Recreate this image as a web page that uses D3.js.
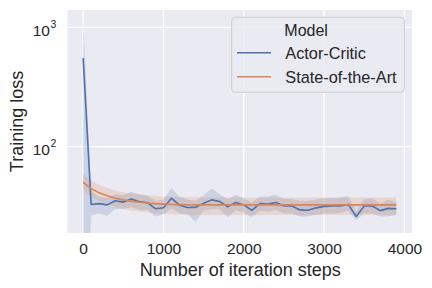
<!DOCTYPE html>
<html>
<head>
<meta charset="utf-8">
<script src="https://cdn.jsdelivr.net/npm/d3@7"></script>
<style>
  html, body { margin: 0; padding: 0; background: #ffffff; }
  svg { display: block; }
  text { font-family: "Liberation Sans", Arial, sans-serif; fill: #262626; }
</style>
</head>
<body>
<div id="chart"></div>
<script>
// ---------- data ----------
const steps = [0,100,200,300,400,500,600,700,800,900,1000,1100,1200,1300,1400,1500,1600,1700,1800,1900,
               2000,2100,2200,2300,2400,2500,2600,2700,2800,2900,3000,3100,3200,3300,3400,3500,3600,3700,3800,3900];

const acMean  = [553,32.8,33.3,32.5,35.2,34.3,36.4,34.5,34.0,30.2,30.8,36.9,32.3,30.9,31.0,33.5,35.8,34.7,31.3,34.1,
                 32.5,29.3,33.3,33.0,34.1,31.8,31.8,29.5,29.3,30.7,31.6,31.8,31.9,32.8,26.0,31.8,31.8,29.1,30.4,30.2];
const acUpper = [1160,42,38,37,40,39,42,40,39,35,36,45,38,36,35,39,44.9,40,36,39.5,
                 37,34,38,38,39.5,36.5,36.5,35,35,36,37,37,37.5,38.5,28.6,36.5,37,33,36,34];
const acLower = [1,26.5,27.5,26.3,30,30,31,29.5,29.5,26,27,30.5,27.5,27,23.5,29,30,30,25.5,29.5,
                 28,25.5,29,28.5,29.5,27.5,27.5,26,26,27,27.5,27.5,28,29,24.3,27.5,27.5,26,26,27];

const sotaMean  = [50.3,44.5,41.0,38.8,37.0,35.8,34.8,34.2,33.7,33.3,33.0,32.8,32.7,32.6,32.5,32.5,32.5,32.5,32.5,32.5,
                   32.5,32.5,32.5,32.5,32.5,32.5,32.5,32.5,32.5,32.5,32.5,32.5,32.5,32.5,32.5,32.5,32.5,32.5,32.5,32.5];
const sotaUpper = [58.5,52,48,45,43,41.5,40.3,39.5,38.9,38.5,38.2,37.9,37.8,37.7,37.6,37.5,37.5,37.5,37.5,37.5,
                   37.5,37.5,37.5,37.5,37.5,37.5,37.5,37.5,37.5,37.5,37.5,37.5,37.5,37.5,37.5,37.5,37.5,37.5,37.5,37.5];
const sotaLower = [43.5,38,35,33,31.2,30,29.2,28.6,28.1,27.7,27.4,27.2,27.0,26.9,26.8,26.7,26.7,26.7,26.7,26.7,
                   26.7,26.7,26.7,26.7,26.7,26.7,26.7,26.7,26.7,26.7,26.7,26.7,26.7,26.7,26.7,26.7,26.7,26.7,26.7,26.7];

const modelNames = ["Actor-Critic", "State-of-the-Art"];
const xTicks = [0, 1000, 2000, 3000, 4000];
const yTicks = [100, 1000];
const yTickExp = ["2", "3"];
const xLabel = "Number of iteration steps";
const yLabel = "Training loss";
const legendTitle = "Model";

// ---------- layout ----------
const W = 432, H = 288;
const L = 67.5, R = 412, T = 10, B = 233;
const colors = ["#4C72B0", "#DD8452"];

const svg = d3.select("#chart").append("svg").attr("width", W).attr("height", H);

const x = d3.scaleLinear().domain([-195, 4095]).range([L, R]);
const y = d3.scaleLog().domain([18.9, 1396]).range([B, T]);

svg.append("rect").attr("x", L).attr("y", T).attr("width", R - L).attr("height", B - T).attr("fill", "#EAEAF2");

svg.append("defs").append("clipPath").attr("id", "clip")
  .append("rect").attr("x", L).attr("y", T).attr("width", R - L).attr("height", B - T);

// grid
const grid = svg.append("g");
grid.selectAll(".gx").data(xTicks).enter().append("line")
  .attr("x1", d => x(d)).attr("x2", d => x(d)).attr("y1", T).attr("y2", B)
  .attr("stroke", "#ffffff").attr("stroke-width", 1.3);
grid.selectAll(".gy").data(yTicks).enter().append("line")
  .attr("x1", L).attr("x2", R).attr("y1", d => y(d)).attr("y2", d => y(d))
  .attr("stroke", "#ffffff").attr("stroke-width", 1.3);

// series
const series = [
  { name: modelNames[0], mean: acMean, lo: acLower, hi: acUpper, color: colors[0] },
  { name: modelNames[1], mean: sotaMean, lo: sotaLower, hi: sotaUpper, color: colors[1] }
];

const plot = svg.append("g").attr("clip-path", "url(#clip)");
const area = d3.area().x(d => x(d.x)).y0(d => y(d.lo)).y1(d => y(d.hi));
const line = d3.line().x(d => x(d.x)).y(d => y(d.m));

series.forEach(s => {
  const pts = steps.map((st, i) => ({ x: st, m: s.mean[i], lo: s.lo[i], hi: s.hi[i] }));
  plot.append("path").datum(pts).attr("d", area)
    .attr("fill", s.color).attr("fill-opacity", 0.2).attr("stroke", "none");
});
series.forEach(s => {
  const pts = steps.map((st, i) => ({ x: st, m: s.mean[i], lo: s.lo[i], hi: s.hi[i] }));
  plot.append("path").datum(pts).attr("d", line)
    .attr("fill", "none").attr("stroke", s.color).attr("stroke-width", 1.6)
    .attr("stroke-linejoin", "round").attr("stroke-linecap", "butt");
});

// x ticks
const xAxis = d3.axisBottom(x).tickValues(xTicks).tickSize(0).tickPadding(0).tickFormat(d3.format("d"));
const gx = svg.append("g").attr("transform", `translate(0,${B})`).call(xAxis);
gx.select(".domain").remove();
gx.selectAll("text").attr("dy", null).attr("y", 21).style("font-size", "15.5px")
  .style("font-family", "'Liberation Sans', Arial, sans-serif").attr("fill", "#262626");

// y ticks (10^n)
const gy = svg.append("g");
yTicks.forEach((v, i) => {
  const t = gy.append("text").attr("x", 50).attr("y", y(v) + 8.4)
    .attr("text-anchor", "end").style("font-size", "15.5px").text("10");
  gy.append("text").attr("x", 50.5).attr("y", y(v) + 0.5)
    .attr("text-anchor", "start").style("font-size", "10.5px").text(yTickExp[i]);
});

// axis labels
svg.append("text").attr("x", (L + R) / 2 + 0.5).attr("y", 275.5).attr("text-anchor", "middle")
  .style("font-size", "18px").text(xLabel);
svg.append("text").attr("transform", `translate(22.5,${(T + B) / 2}) rotate(-90)`).attr("text-anchor", "middle")
  .style("font-size", "18px").text(yLabel);

// legend
const lg = svg.append("g");
lg.append("rect").attr("x", 231.7).attr("y", 17.3).attr("width", 172.6).attr("height", 75)
  .attr("rx", 3.5).attr("ry", 3.5).attr("fill", "#EAEAF2").attr("fill-opacity", 0.8)
  .attr("stroke", "#CCCCCC").attr("stroke-width", 1);
lg.append("text").attr("x", 284.3).attr("y", 36).style("font-size", "16px").text(legendTitle);
series.forEach((s, i) => {
  const yy = 52.7 + i * 24;
  lg.append("line").attr("x1", 237).attr("x2", 271).attr("y1", yy).attr("y2", yy)
    .attr("stroke", s.color).attr("stroke-width", 1.6);
  lg.append("text").attr("x", 285.3).attr("y", yy + 6.3).style("font-size", "16.3px").text(s.name);
});
</script>
</body>
</html>
